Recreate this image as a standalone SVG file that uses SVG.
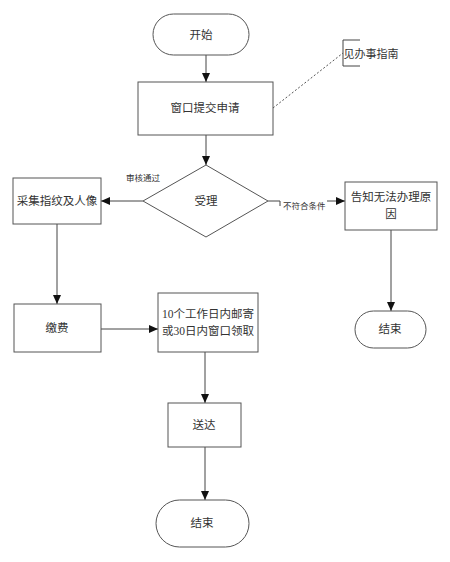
<svg xmlns="http://www.w3.org/2000/svg" width="450" height="562" viewBox="0 0 450 562">
<style>
.s{fill:#fff;stroke:#555;stroke-width:1}
.t{font-family:"Liberation Serif","Noto Sans CJK SC",serif;font-size:11.5px;fill:#333;text-anchor:middle;dominant-baseline:central}
.sm{font-family:"Liberation Serif","Noto Sans CJK SC",serif;font-size:8.5px;fill:#333;dominant-baseline:central}
.c{fill:none;stroke:#444;stroke-width:1}
</style>
<defs>
<marker id="a" markerWidth="10" markerHeight="8" refX="9" refY="4" orient="auto" markerUnits="userSpaceOnUse">
<path d="M0,0 L9,4 L0,8 Z" fill="#111"/>
</marker>
</defs>
<rect width="450" height="562" fill="#fff"/>
<g id="connectors">
<line class="c" x1="206" y1="55" x2="206" y2="82" marker-end="url(#a)"/>
<line class="c" x1="206" y1="135" x2="206" y2="165" marker-end="url(#a)"/>
<line x1="273" y1="108" x2="343" y2="53" stroke="#555" stroke-width="1" stroke-dasharray="2,2"/>
<path class="c" d="M343,40 V66 M343,40 H360 M343,66 H360"/>
<line class="c" x1="143" y1="201" x2="101" y2="201" marker-end="url(#a)"/>
<text class="sm" x="126" y="178">审核通过</text>
<path class="c" d="M268,201 H280 V206"/>
<text class="sm" x="283" y="206">不符合条件</text>
<line class="c" x1="327" y1="201" x2="345" y2="201" marker-end="url(#a)"/>
<line class="c" x1="57" y1="224" x2="57" y2="304" marker-end="url(#a)"/>
<line class="c" x1="101" y1="329" x2="158" y2="329" marker-end="url(#a)"/>
<line class="c" x1="391" y1="230" x2="391" y2="311" marker-end="url(#a)"/>
<line class="c" x1="205" y1="352" x2="205" y2="403" marker-end="url(#a)"/>
<line class="c" x1="205" y1="447" x2="205" y2="500" marker-end="url(#a)"/>
</g>
<g id="start"><rect class="s" x="153" y="14" width="96" height="41" rx="20.5"/><text class="t" x="201" y="35">开始</text></g>
<g id="submit"><rect class="s" x="138" y="82" width="135" height="53"/><text class="t" x="205" y="108">窗口提交申请</text></g>
<g id="note"><text class="t" x="371" y="54" style="font-size:11px">见办事指南</text></g>
<g id="accept"><polygon class="s" points="206,165 268,201 206,237 143,201"/><text class="t" x="206" y="201">受理</text></g>
<g id="collect"><rect class="s" x="13" y="178" width="88" height="46"/><text class="t" x="57" y="201">采集指纹及人像</text></g>
<g id="inform"><rect class="s" x="345" y="182" width="92" height="48"/><text class="t" x="391" y="197">告知无法办理原</text><text class="t" x="391" y="214">因</text></g>
<g id="pay"><rect class="s" x="14" y="304" width="87" height="48"/><text class="t" x="57" y="328">缴费</text></g>
<g id="mail"><rect class="s" x="158" y="293" width="100" height="59"/><text class="t" x="208" y="314">10个工作日内邮寄</text><text class="t" x="208" y="331">或30日内窗口领取</text></g>
<g id="end1"><rect class="s" x="355" y="311" width="71" height="37" rx="18.5"/><text class="t" x="390" y="329">结束</text></g>
<g id="deliver"><rect class="s" x="168" y="403" width="73" height="44"/><text class="t" x="204" y="425">送达</text></g>
<g id="end2"><rect class="s" x="156" y="500" width="93" height="47" rx="23.5"/><text class="t" x="202" y="523">结束</text></g>
</svg>
